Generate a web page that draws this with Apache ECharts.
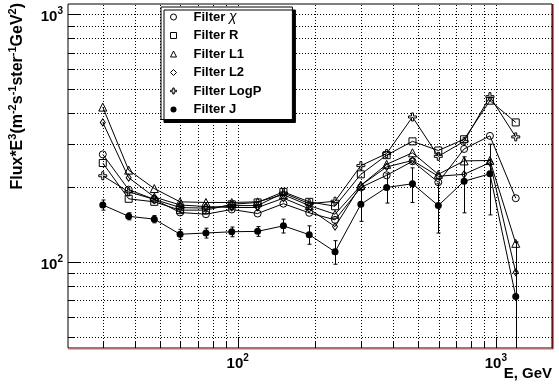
<!DOCTYPE html>
<html>
<head>
<meta charset="utf-8">
<script src="https://cdn.jsdelivr.net/npm/echarts@6/dist/echarts.min.js"></script>
<style>
  html, body { margin: 0; padding: 0; background: #fff; }
  #chart { width: 559px; height: 389px; }
</style>
</head>
<body>
<div id="chart"></div>
<script>
// bin centres, GeV
var energy = [30, 37.8, 47.5, 59.8, 75.3, 94.8, 119.4, 150.3, 189.2, 238.2, 299.9, 377.5, 475.3, 598.4, 753.3, 948.4, 1194];

// Flux*E^3 per filter
var filterChi  = [272, 196, 179, 158.5, 156, 163, 157, 172, 158, 148, 200, 224, 255, 210, 286, 323, 181];
var filterR    = [251, 180, 175, 162, 162, 171, 174, 192, 175, 168, 226, 270, 307, 282, 313, 448, 366];
var filterL1   = [422, 235, 198, 175, 174, 174, 175, 187, 169, 156, 204, 248, 276, 226, 256, 257, 119];
var filterL2   = [366, 219, 183, 170, 167.5, 166, 166, 181, 164, 139, 204, 242, 257, 222, 226, 252, 91];
var filterLogP = [223, 192, 179, 166, 165, 169, 169, 190, 172, 176, 245, 274, 385, 267, 307, 465, 320];
var filterJ    = [170, 153, 149, 129.5, 131, 132.5, 133, 140, 129, 110, 171, 200, 207, 169, 212, 227, 72.6];
var filterJErr = [8, 5, 5, 6, 6, 6, 6, 9, 11, 12, 25, 27, 33, 38, 54, 72, 48];

var seriesNames = ['Filter χ', 'Filter R', 'Filter L1', 'Filter L2', 'Filter LogP', 'Filter J'];

// grid lines / tick positions
var xGrid = [30, 40, 50, 60, 70, 80, 90, 100, 200, 300, 400, 500, 600, 700, 800, 900, 1000];
var yGrid = [50, 60, 70, 80, 90, 100, 200, 300, 400, 500, 600, 700, 800, 900, 1000];
var majorTicks = [100, 1000];

var xMin = 22, xMax = 1650, yMin = 45, yMax = 1100;
var font = 'Liberation Sans, Arial, Helvetica, sans-serif';
var crossPath = 'path://M3,0L5,0L5,3L8,3L8,5L5,5L5,8L3,8L3,5L0,5L0,3L3,3Z';

var chart = echarts.init(document.getElementById('chart'));

function pow10Label(v) {
  var e = Math.round(Math.log10(v));
  if (Math.abs(Math.log10(v) - e) < 1e-6) return '{b|10}{s|' + e + '}';
  return '';
}
var labelRich = {
  b: { fontSize: 15, fontWeight: 'bold', fontFamily: font, color: '#000', lineHeight: 18, verticalAlign: 'bottom' },
  s: { fontSize: 10, fontWeight: 'bold', fontFamily: font, color: '#000', lineHeight: 10, verticalAlign: 'top' }
};

function snap(p) { return Math.round(p) + 0.5; }

// dotted grid + inward ticks, drawn through the axes
function gridItem(dir) {
  return function (params, api) {
    var v = api.value(dir === 'x' ? 0 : 1);
    var major = majorTicks.indexOf(v) >= 0;
    var a, b;
    if (dir === 'x') {
      a = api.coord([v, yMin]); b = api.coord([v, yMax]);
      var x = snap(a[0]), len = major ? 11 : 6;
      return { type: 'group', children: [
        { type: 'line', shape: { x1: x, y1: a[1], x2: x, y2: b[1] }, style: { stroke: '#000', lineWidth: 1, lineDash: [1, 2] } },
        { type: 'line', shape: { x1: x, y1: a[1], x2: x, y2: a[1] - len }, style: { stroke: '#000', lineWidth: 1 } }
      ]};
    }
    a = api.coord([xMin, v]); b = api.coord([xMax, v]);
    var y = snap(a[1]), ylen = major ? 13 : 6;
    return { type: 'group', children: [
      { type: 'line', shape: { x1: a[0], y1: y, x2: b[0], y2: y }, style: { stroke: '#000', lineWidth: 1, lineDash: [1, 2] } },
      { type: 'line', shape: { x1: a[0], y1: y, x2: a[0] + ylen, y2: y }, style: { stroke: '#000', lineWidth: 1 } }
    ]};
  };
}

function lineSeries(name, values, symbol, size) {
  return {
    name: name,
    type: 'line',
    data: energy.map(function (e, i) { return [e, values[i]]; }),
    symbol: symbol,
    symbolSize: size,
    showAllSymbol: true,
    itemStyle: { color: 'transparent', borderColor: '#000', borderWidth: 1 },
    lineStyle: { color: '#000', width: 1 },
    emphasis: { disabled: true },
    z: 3
  };
}

var series = [
  { type: 'custom', silent: true, z: 1, data: xGrid.map(function (v) { return [v, yMin]; }), renderItem: gridItem('x') },
  { type: 'custom', silent: true, z: 1, data: yGrid.map(function (v) { return [xMin, v]; }), renderItem: gridItem('y') },
  lineSeries(seriesNames[0], filterChi, 'circle', 7),
  lineSeries(seriesNames[1], filterR, 'rect', 7),
  lineSeries(seriesNames[2], filterL1, 'triangle', 8),
  lineSeries(seriesNames[3], filterL2, 'diamond', [5, 7]),
  lineSeries(seriesNames[4], filterLogP, crossPath, 8),
  {
    name: seriesNames[5],
    type: 'line',
    data: energy.map(function (e, i) { return [e, filterJ[i]]; }),
    symbol: 'circle',
    symbolSize: 7,
    showAllSymbol: true,
    itemStyle: { color: '#000' },
    lineStyle: { color: '#000', width: 1 },
    emphasis: { disabled: true },
    z: 4
  },
  {
    // error bars of Filter J
    type: 'custom', silent: true, z: 4, clip: true,
    data: energy.map(function (e, i) { return [e, filterJ[i], filterJErr[i]]; }),
    renderItem: function (params, api) {
      var e = api.value(0), v = api.value(1), err = api.value(2);
      var low = v - err, clamped = low < yMin;
      var top = api.coord([e, v + err]);
      var bot = api.coord([e, clamped ? yMin : low]);
      var x = snap(top[0]);
      var kids = [
        { type: 'line', shape: { x1: x, y1: top[1], x2: x, y2: bot[1] }, style: { stroke: '#000', lineWidth: 1 } },
        { type: 'line', shape: { x1: x - 2, y1: top[1], x2: x + 2, y2: top[1] }, style: { stroke: '#000', lineWidth: 1 } }
      ];
      if (!clamped) kids.push({ type: 'line', shape: { x1: x - 2, y1: bot[1], x2: x + 2, y2: bot[1] }, style: { stroke: '#000', lineWidth: 1 } });
      return { type: 'group', children: kids };
    }
  }
];

var openIcon = { color: 'transparent', borderColor: '#000', borderWidth: 1 };

var option = {
  animation: false,
  backgroundColor: '#fff',
  textStyle: { fontFamily: font },
  grid: { left: 68, right: 7, top: 4, bottom: 41, show: true, borderColor: '#000', borderWidth: 1, backgroundColor: 'transparent' },
  xAxis: {
    type: 'log', logBase: 10, min: xMin, max: xMax,
    axisLine: { show: false }, axisTick: { show: false }, splitLine: { show: false },
    axisLabel: { formatter: pow10Label, rich: labelRich, margin: 5, showMinLabel: false, showMaxLabel: false }
  },
  yAxis: {
    type: 'log', logBase: 10, min: yMin, max: yMax,
    axisLine: { show: false }, axisTick: { show: false }, splitLine: { show: false },
    axisLabel: { formatter: pow10Label, rich: labelRich, margin: 5, padding: [2, 0, 0, 0], showMinLabel: false, showMaxLabel: false }
  },
  legend: {
    orient: 'vertical', left: 161, top: 7,
    padding: [2, 31, 2, 9],
    itemWidth: 6, itemHeight: 6, itemGap: 2.5,
    backgroundColor: '#fff', borderColor: '#000', borderWidth: 1,
    shadowColor: '#000', shadowBlur: 0, shadowOffsetX: 3, shadowOffsetY: 3,
    selectedMode: false,
    itemStyle: openIcon,
    textStyle: {
      fontFamily: font, fontWeight: 'bold', fontSize: 13, color: '#000', lineHeight: 16, padding: [0, 0, 0, 12],
      rich: { i: { fontFamily: font, fontStyle: 'italic', fontWeight: 'normal', fontSize: 14, color: '#000' } }
    },
    formatter: function (name) { return name === 'Filter χ' ? 'Filter {i|χ}' : name; },
    data: [
      { name: seriesNames[0], icon: 'circle', itemStyle: openIcon },
      { name: seriesNames[1], icon: 'rect', itemStyle: openIcon },
      { name: seriesNames[2], icon: 'triangle', itemStyle: openIcon },
      { name: seriesNames[3], icon: 'diamond', itemStyle: openIcon },
      { name: seriesNames[4], icon: crossPath, itemStyle: openIcon },
      { name: seriesNames[5], icon: 'circle', itemStyle: { color: '#000', borderWidth: 0 } }
    ]
  },
  graphic: [
    {
      type: 'text', x: 18, y: 3, rotation: Math.PI / 2,
      style: {
        text: 'Flux*E{s|3}(m{s|-2}s{s|-1}ster{s|-1}GeV{s|2})',
        fontFamily: font, fontWeight: 'bold', fontSize: 16, fill: '#000', lineHeight: 22,
        align: 'right', verticalAlign: 'middle', textAlign: 'right', textVerticalAlign: 'middle',
        rich: { s: { fontFamily: font, fontWeight: 'bold', fontSize: 11, lineHeight: 11, verticalAlign: 'top', fill: '#000' } }
      }
    },
    {
      type: 'text', x: 552, y: 374,
      style: {
        text: 'E, GeV', fontFamily: font, fontWeight: 'bold', fontSize: 15, fill: '#000',
        align: 'right', verticalAlign: 'middle', textAlign: 'right', textVerticalAlign: 'middle'
      }
    },
    // ROOT frame edge shading
    { type: 'rect', shape: { x: 552, y: 4, width: 1.5, height: 345 }, style: { fill: '#8b0000' }, z: 10 },
    { type: 'rect', shape: { x: 68, y: 348.5, width: 485, height: 1 }, style: { fill: '#e06060' }, z: 10 }
  ],
  series: series
};

chart.setOption(option);
</script>
</body>
</html>
